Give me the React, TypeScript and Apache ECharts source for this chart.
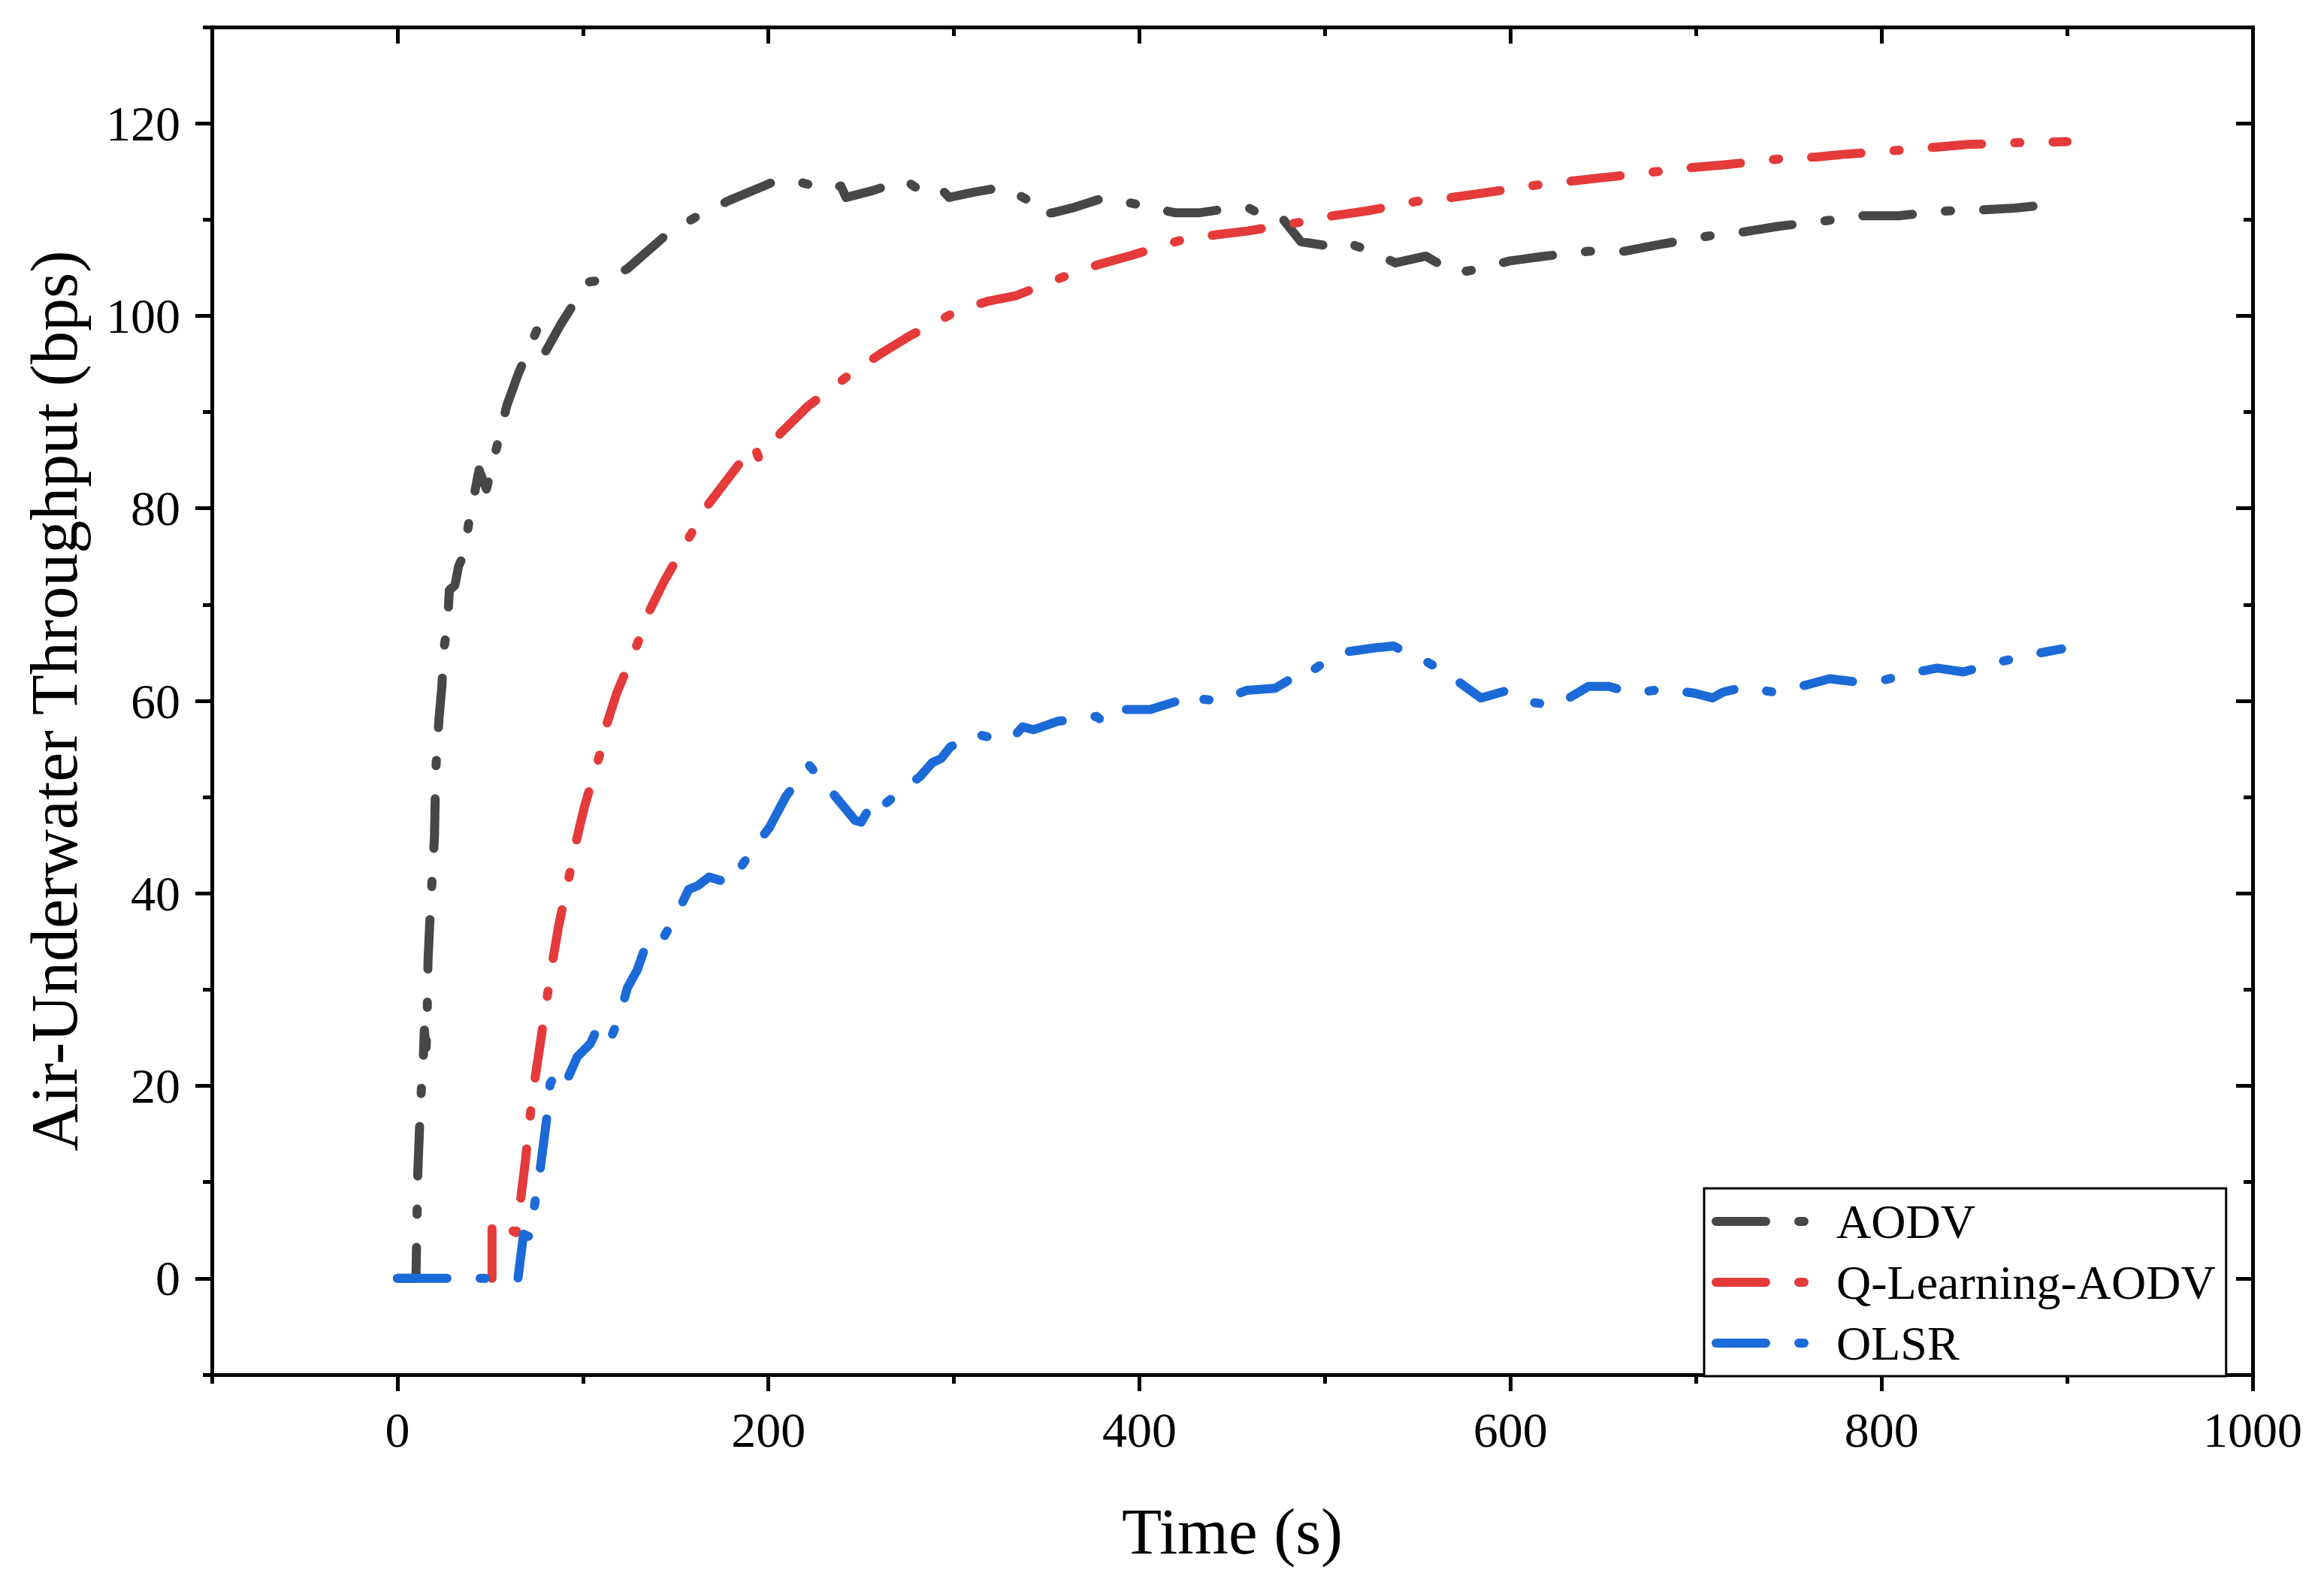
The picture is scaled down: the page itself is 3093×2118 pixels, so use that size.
import React, { useEffect, useRef } from "react";
import * as echarts from "echarts";

const SERIES_NAMES = ["AODV", "Q-Learning-AODV", "OLSR"];
const SERIES_COLORS = ["#474747", "#e43a3a", "#1c6ad8"];

const X_MAJOR = [0, 200, 400, 600, 800, 1000];
const X_MINOR = [-100, 100, 300, 500, 700, 900];
const Y_MAJOR = [0, 20, 40, 60, 80, 100, 120];
const Y_MINOR = [-10, 10, 30, 50, 70, 90, 110, 130];

const AODV: number[][] = [
  [0, 0], [10, 0], [11, 11], [12, 16], [13, 20], [14, 23], [14.5, 25.8], [15.5, 24], [16, 27], [16.5, 33],
  [17.3, 36.4], [18.2, 39.7], [20, 46], [20.6, 52.6], [22.4, 58.1], [24, 61.6], [24.8, 65], [27, 68],
  [28, 71.5], [31, 72], [33, 74], [35.8, 75.2], [38.5, 78.5], [44, 84], [48, 82], [54.6, 87.2], [59, 90.7],
  [65, 93.9], [76, 98.9], [79.6, 96.2], [88, 99.1], [102.4, 103.5], [113.5, 103.8], [124, 104.9],
  [146, 108.6], [163, 110.5], [179, 112], [205, 114.1], [218.6, 113.8], [232.6, 113.1], [239, 113.5],
  [241.8, 112.3], [256, 113], [273.6, 114.1], [285.8, 112.5], [294, 113], [297.4, 112.3], [309.6, 112.8],
  [327, 113.4], [340, 112], [345, 110.5], [353, 110.7], [363.6, 111.2], [381.6, 112.3], [398, 111.6],
  [407, 111.4], [412, 111], [419.6, 110.7], [432, 110.7], [450, 111.2], [459, 111.2], [464.6, 110.6],
  [475.4, 110.5], [487, 107.7], [503.8, 107.2], [512, 107.6], [524.6, 106.7], [538, 105.5], [554.4, 106.2],
  [564, 105.1], [569, 104.4], [581, 104.8], [599.5, 105.7], [618.5, 106.2], [642, 106.7], [661, 106.7],
  [680, 107.4], [707, 108.3], [725, 108.7], [744.4, 109.3], [771, 109.9], [790, 110.4], [809, 110.4],
  [835.5, 110.9], [853.6, 111], [872, 111.2], [898, 111.7],
];

const QL_AODV: number[][] = [
  [51, 0], [51, 6.1], [64, 4.75], [66.5, 8.3], [68.8, 11.9], [71.8, 17.3], [74.2, 20.8], [77, 24.4],
  [81, 29.6], [83.8, 33.1], [86.9, 36.6], [92.8, 42], [96.5, 45.5], [100.8, 49], [108.9, 54.3],
  [112.7, 57.5], [118.2, 60.8], [129.5, 66], [135.5, 69.2], [143.7, 72.4], [157.9, 77.2], [166.4, 80.1],
  [177.8, 83], [192.2, 86.6], [194.8, 85.2], [207, 87.9], [221.2, 90.6], [244.5, 94], [260, 96],
  [276, 97.9], [301.8, 100.5], [318, 101.5], [333.5, 102.1], [361, 104.2], [377.4, 105.3], [396, 106.3],
  [423, 107.9], [440.6, 108.4], [458, 108.8], [486, 109.7], [504.6, 110.4], [522.6, 110.9], [549.8, 111.9],
  [568.6, 112.3], [587, 112.8], [614.8, 113.6], [633, 114], [652, 114.4], [680, 115], [698, 115.4],
  [716, 115.7], [745, 116.3], [765, 116.5], [781, 116.8], [810, 117.2], [828, 117.5], [846.4, 117.8],
  [875.4, 118], [900, 118.1],
];

const OLSR: number[][] = [
  [0, 0], [65, 0], [68, 4.6], [71.4, 4.3], [74, 7.7], [77, 11.4], [80.6, 16.8], [82.3, 20.2], [86.9, 21.8],
  [91.4, 20.6], [96.9, 23], [104, 24.4], [108.6, 26.3], [114.9, 24.9], [119.4, 27], [124, 30.2],
  [129.4, 32.1], [135.7, 35.6], [144, 35.6], [151, 38], [157, 40.4], [162, 40.8], [168, 41.7], [180, 41],
  [185, 42.7], [191.6, 44.6], [200.4, 46.8], [209.5, 50.1], [222, 53.3], [233.8, 50.6], [246.6, 47.6],
  [250, 47.4], [257, 49.7], [260.5, 48.9], [271, 50.6], [281.5, 52.1], [288.4, 53.6], [293, 54],
  [298, 55.2], [310.5, 56.6], [324.5, 56], [331.4, 56.1], [337, 57.3], [343, 57], [356.3, 57.9],
  [369.8, 58.1], [376.7, 58.4], [381.4, 57.7], [390.7, 59.1], [405.8, 59.1], [420.8, 60], [426.8, 60.8],
  [432.6, 60.2], [443, 60], [458, 61.1], [473, 61.3], [480, 62.1], [483.6, 61.8], [496.5, 63.6],
  [512, 65.1], [526.7, 65.5], [537, 65.7], [544, 65], [551, 64.5], [566.8, 62.7], [584, 60.3],
  [596.8, 61], [609.5, 59.9], [624.5, 59.5], [642, 61.5], [653, 61.5], [665.4, 60.8], [682, 61.2],
  [699, 60.8], [709, 60.3], [714.4, 60.9], [725, 61.4], [742.5, 60.9], [760.5, 61.7], [772, 62.3],
  [785, 62], [802, 62.2], [819, 63], [830, 63.4], [844, 63], [862.6, 64], [880.6, 64.8], [897, 65.4],
];

const SERIES_DATA = [AODV, QL_AODV, OLSR];

const FONT = '"Liberation Serif", "Times New Roman", serif';
const DASH = [66, 44, 7, 44];
const LINE_W = 12;
const AXIS_W = 5;

const plainNumber = (v: number) => String(v);

function makeXAxis(position: "top" | "bottom", major: boolean, inside: boolean, withLabels: boolean): any {
  const ax: any = {
    type: "value",
    position,
    min: -100,
    max: 1000,
    interval: 100,
    splitLine: { show: false },
    axisLine: { show: major, onZero: false, lineStyle: { color: "#000", width: AXIS_W } },
    axisTick: {
      show: true,
      inside,
      length: major ? 22 : 12,
      customValues: major ? X_MAJOR : X_MINOR,
      lineStyle: { color: "#000", width: AXIS_W },
    },
    axisLabel: withLabels
      ? {
          show: true,
          customValues: X_MAJOR,
          formatter: plainNumber,
          fontFamily: FONT,
          fontSize: 66,
          color: "#000",
          margin: 40,
        }
      : { show: false },
  };
  if (withLabels) {
    ax.name = "Time (s)";
    ax.nameLocation = "middle";
    ax.nameGap = 165;
    ax.nameTextStyle = { fontFamily: FONT, fontSize: 87, color: "#000" };
  }
  return ax;
}

function makeYAxis(position: "left" | "right", major: boolean, inside: boolean, withLabels: boolean): any {
  const ax: any = {
    type: "value",
    position,
    min: -10,
    max: 130,
    interval: 10,
    splitLine: { show: false },
    axisLine: { show: major, onZero: false, lineStyle: { color: "#000", width: AXIS_W } },
    axisTick: {
      show: true,
      inside,
      length: major ? 22 : 12,
      customValues: major ? Y_MAJOR : Y_MINOR,
      lineStyle: { color: "#000", width: AXIS_W },
    },
    axisLabel: withLabels
      ? {
          show: true,
          customValues: Y_MAJOR,
          formatter: plainNumber,
          fontFamily: FONT,
          fontSize: 66,
          color: "#000",
          margin: 42,
        }
      : { show: false },
  };
  if (withLabels) {
    ax.name = "Air-Underwater Throughput (bps)";
    ax.nameLocation = "middle";
    ax.nameGap = 166;
    ax.nameTextStyle = { fontFamily: FONT, fontSize: 88, color: "#000" };
  }
  return ax;
}

export default function App() {
  const ref = useRef<HTMLDivElement>(null);

  useEffect(() => {
    if (!ref.current) return;
    const chart = echarts.init(ref.current, null, { renderer: "svg" });
    const option: any = {
      animation: false,
      backgroundColor: "#fff",
      grid: { left: 282, right: 95, top: 36, bottom: 288, containLabel: false, outerBoundsMode: "none" },
      xAxis: [
        makeXAxis("bottom", true, false, true),
        makeXAxis("bottom", false, false, false),
        makeXAxis("top", true, true, false),
        makeXAxis("top", false, true, false),
      ],
      yAxis: [
        makeYAxis("left", true, false, true),
        makeYAxis("left", false, false, false),
        makeYAxis("right", true, true, false),
        makeYAxis("right", false, true, false),
      ],
      legend: {
        show: true,
        orient: "vertical",
        left: 2268,
        top: 1582,
        data: SERIES_NAMES,
        itemWidth: 155,
        itemHeight: 14,
        itemGap: 17,
        padding: [12, 14, 12, 10],
        borderColor: "#000",
        borderWidth: 3,
        backgroundColor: "#fff",
        selectedMode: false,
        textStyle: { fontFamily: FONT, fontSize: 64, color: "#000", lineHeight: 64 },
        lineStyle: { width: LINE_W, type: DASH, cap: "round" },
        itemStyle: { opacity: 0, color: "rgba(0,0,0,0)", borderWidth: 0 },
      },
      series: SERIES_NAMES.map((name, i) => ({
        name,
        type: "line",
        xAxisIndex: 0,
        yAxisIndex: 0,
        data: SERIES_DATA[i],
        symbol: "none",
        showSymbol: false,
        smooth: false,
        color: SERIES_COLORS[i],
        lineStyle: { color: SERIES_COLORS[i], width: LINE_W, type: DASH, cap: "round", join: "round" },
        z: 2 + i,
      })),
    };
    chart.setOption(option);
    return () => chart.dispose();
  }, []);

  return (
    <div
      ref={ref}
      style={{ position: "absolute", left: 0, top: 0, width: 3093, height: 2118, background: "#fff" }}
    />
  );
}
